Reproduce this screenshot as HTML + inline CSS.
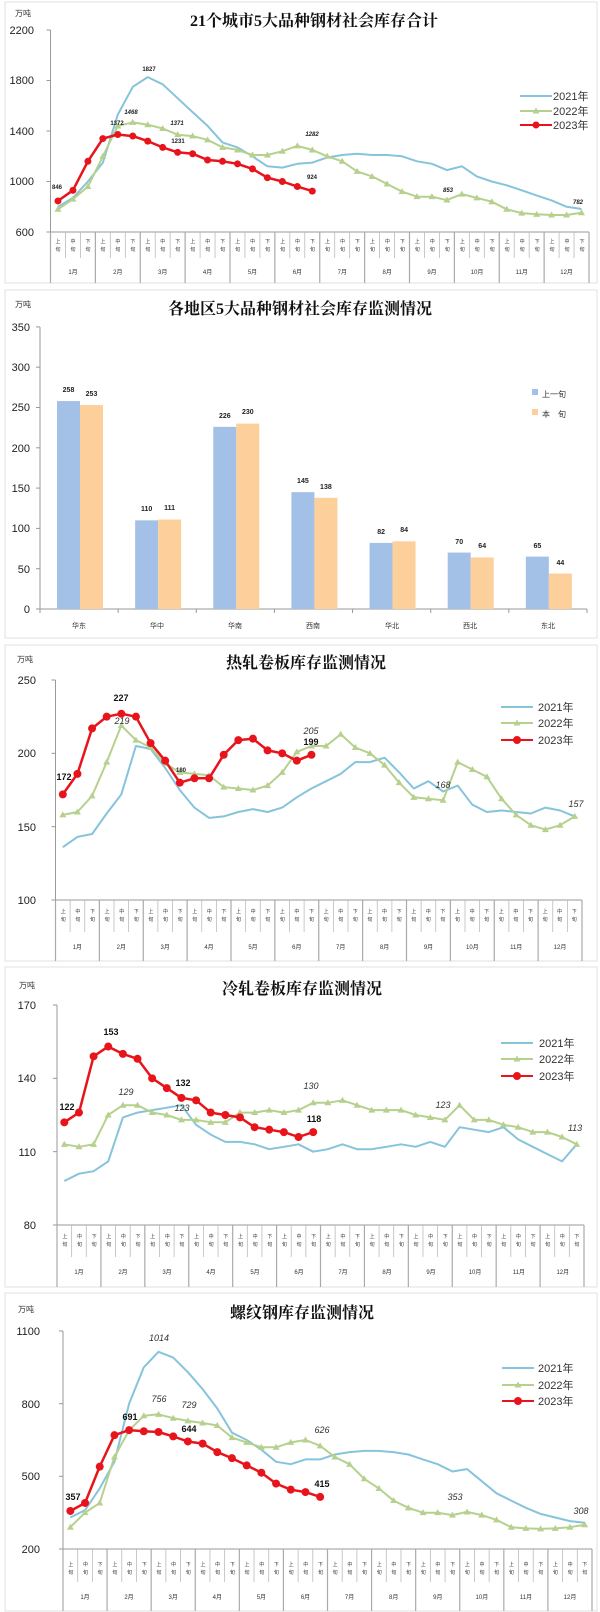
<!DOCTYPE html>
<html><head><meta charset="utf-8">
<style>
html,body{margin:0;padding:0;background:#fff;}
svg{display:block;font-family:"Liberation Sans","Noto Sans CJK SC",sans-serif;}
.t{font-family:"Liberation Serif","Noto Serif CJK SC",serif;font-weight:bold;font-size:16px;fill:#111;}
.yl{font-size:11px;fill:#222;text-anchor:end;}
.u{font-size:8px;fill:#333;}
.tk{font-size:5px;fill:#333;}
.mo{font-size:6px;fill:#333;text-anchor:middle;}
.lg{font-size:11px;fill:#333;}
.dl{font-size:6px;font-weight:bold;fill:#222;text-anchor:middle;}
.dl2{font-size:9px;font-weight:bold;fill:#111;text-anchor:middle;}
.di{font-size:9px;font-style:italic;fill:#333;text-anchor:middle;}
.bl{font-size:7px;font-weight:bold;fill:#222;text-anchor:middle;}
.cat{font-size:7px;fill:#333;text-anchor:middle;}
</style></head><body>
<svg id="s" width="600" height="1612" viewBox="0 0 600 1612" xmlns="http://www.w3.org/2000/svg">
<g id="geo"></g>
<!-- Chart 1 -->
<text class="u" x="15" y="16">万吨</text>
<text class="t" x="314" y="26" text-anchor="middle">21个城市5大品种钢材社会库存合计</text>
<text class="yl" x="34" y="34">2200</text><text class="yl" x="34" y="84">1800</text><text class="yl" x="34" y="135">1400</text><text class="yl" x="34" y="185">1000</text><text class="yl" x="34" y="236">600</text>
<text class="lg" x="553" y="100">2021年</text><text class="lg" x="553" y="115">2022年</text><text class="lg" x="553" y="129">2023年</text>
<text class="dl" x="149" y="71">1827</text><text class="dl" x="131" y="114" font-style="italic">1468</text><text class="dl" x="117" y="125">1372</text><text class="dl" x="177" y="125" font-style="italic">1371</text><text class="dl" x="178" y="143">1231</text><text class="dl" x="312" y="136" font-style="italic">1282</text><text class="dl" x="312" y="179">924</text><text class="dl" x="57" y="189">846</text><text class="dl" x="448" y="192" font-style="italic">853</text><text class="dl" x="578" y="204" font-style="italic">782</text>
<text class="tk" x="55.5" y="243" textLength="529" lengthAdjust="spacing">上中下上中下上中下上中下上中下上中下上中下上中下上中下上中下上中下上中下</text>
<text class="tk" x="55.5" y="251" textLength="529" lengthAdjust="spacing">旬旬旬旬旬旬旬旬旬旬旬旬旬旬旬旬旬旬旬旬旬旬旬旬旬旬旬旬旬旬旬旬旬旬旬旬</text>
<g class="mo"><text x="73" y="274">1月</text><text x="117.8" y="274">2月</text><text x="162.7" y="274">3月</text><text x="207.6" y="274">4月</text><text x="252.5" y="274">5月</text><text x="297.4" y="274">6月</text><text x="342.3" y="274">7月</text><text x="387.2" y="274">8月</text><text x="432" y="274">9月</text><text x="477" y="274">10月</text><text x="521.8" y="274">11月</text><text x="566.6" y="274">12月</text></g>
<!-- Chart 2 -->
<text class="u" x="15" y="307">万吨</text>
<text class="t" x="300" y="314" text-anchor="middle">各地区5大品种钢材社会库存监测情况</text>
<text class="yl" x="30" y="331">350</text><text class="yl" x="30" y="371">300</text><text class="yl" x="30" y="411">250</text><text class="yl" x="30" y="452">200</text><text class="yl" x="30" y="492">150</text><text class="yl" x="30" y="532">100</text><text class="yl" x="30" y="573">50</text><text class="yl" x="30" y="613">0</text>
<text class="u" x="542" y="397">上一旬</text><text class="u" x="542" y="417">本　旬</text>
<g class="bl"><text x="68.5" y="392">258</text><text x="91.5" y="396">253</text><text x="146.6" y="511">110</text><text x="169.6" y="510">111</text><text x="224.8" y="418">226</text><text x="247.8" y="414">230</text><text x="302.9" y="483">145</text><text x="325.9" y="489">138</text><text x="381.1" y="534">82</text><text x="404.1" y="532">84</text><text x="459.2" y="544">70</text><text x="482.2" y="548">64</text><text x="537.4" y="548">65</text><text x="560.4" y="565">44</text></g>
<g class="cat"><text x="79" y="628">华东</text><text x="157" y="628">华中</text><text x="235" y="628">华南</text><text x="313" y="628">西南</text><text x="392" y="628">华北</text><text x="470" y="628">西北</text><text x="548" y="628">东北</text></g>
<!-- Chart 3 -->
<text class="u" x="17" y="662">万吨</text>
<text class="t" x="306" y="668" text-anchor="middle" font-size="17">热轧卷板库存监测情况</text>
<text class="yl" x="36" y="684">250</text><text class="yl" x="36" y="757">200</text><text class="yl" x="36" y="831">150</text><text class="yl" x="36" y="904">100</text>
<text class="lg" x="538" y="711">2021年</text><text class="lg" x="538" y="727">2022年</text><text class="lg" x="538" y="744">2023年</text>
<text class="dl2" x="121" y="701">227</text><text class="di" x="122" y="724">219</text><text class="dl2" x="64" y="780">172</text><text class="dl" x="181" y="772" font-size="7">180</text><text class="di" x="311" y="734">205</text><text class="dl2" x="311" y="745">199</text><text class="di" x="443" y="788">168</text><text class="di" x="576" y="807">157</text>
<text class="tk" x="60.8" y="913" textLength="516" lengthAdjust="spacing">上中下上中下上中下上中下上中下上中下上中下上中下上中下上中下上中下上中下</text>
<text class="tk" x="60.8" y="921" textLength="516" lengthAdjust="spacing">旬旬旬旬旬旬旬旬旬旬旬旬旬旬旬旬旬旬旬旬旬旬旬旬旬旬旬旬旬旬旬旬旬旬旬旬</text>
<g class="mo"><text x="77.4" y="949">1月</text><text x="121.3" y="949">2月</text><text x="165.2" y="949">3月</text><text x="209" y="949">4月</text><text x="253" y="949">5月</text><text x="296.8" y="949">6月</text><text x="340.7" y="949">7月</text><text x="384.6" y="949">8月</text><text x="428.5" y="949">9月</text><text x="472.4" y="949">10月</text><text x="516.2" y="949">11月</text><text x="560" y="949">12月</text></g>
<!-- Chart 4 -->
<text class="u" x="19" y="988">万吨</text>
<text class="t" x="302" y="994" text-anchor="middle" font-size="17">冷轧卷板库存监测情况</text>
<text class="yl" x="36" y="1009">170</text><text class="yl" x="36" y="1082">140</text><text class="yl" x="36" y="1156">110</text><text class="yl" x="36" y="1229">80</text>
<text class="lg" x="539" y="1047">2021年</text><text class="lg" x="539" y="1063">2022年</text><text class="lg" x="539" y="1080">2023年</text>
<text class="dl2" x="111" y="1035">153</text><text class="dl2" x="67" y="1110">122</text><text class="di" x="126" y="1095">129</text><text class="dl2" x="183" y="1086">132</text><text class="di" x="182" y="1111">123</text><text class="di" x="311" y="1089">130</text><text class="dl2" x="314" y="1122">118</text><text class="di" x="443" y="1108">123</text><text class="di" x="575" y="1131">113</text>
<text class="tk" x="62.4" y="1238" textLength="517" lengthAdjust="spacing">上中下上中下上中下上中下上中下上中下上中下上中下上中下上中下上中下上中下</text>
<text class="tk" x="62.4" y="1246" textLength="517" lengthAdjust="spacing">旬旬旬旬旬旬旬旬旬旬旬旬旬旬旬旬旬旬旬旬旬旬旬旬旬旬旬旬旬旬旬旬旬旬旬旬</text>
<g class="mo"><text x="79" y="1274">1月</text><text x="123" y="1274">2月</text><text x="167" y="1274">3月</text><text x="211" y="1274">4月</text><text x="255" y="1274">5月</text><text x="299" y="1274">6月</text><text x="343" y="1274">7月</text><text x="387" y="1274">8月</text><text x="431" y="1274">9月</text><text x="475" y="1274">10月</text><text x="518.9" y="1274">11月</text><text x="562.8" y="1274">12月</text></g>
<!-- Chart 5 -->
<text class="u" x="18" y="1312">万吨</text>
<text class="t" x="302" y="1318" text-anchor="middle" font-size="17">螺纹钢库存监测情况</text>
<text class="yl" x="40" y="1335">1100</text><text class="yl" x="40" y="1408">800</text><text class="yl" x="40" y="1480">500</text><text class="yl" x="40" y="1553">200</text>
<text class="lg" x="538" y="1372">2021年</text><text class="lg" x="538" y="1389">2022年</text><text class="lg" x="538" y="1405">2023年</text>
<text class="di" x="159" y="1341" font-style="normal">1014</text><text class="di" x="159" y="1402" font-style="normal">756</text><text class="di" x="189" y="1408" font-style="normal">729</text><text class="dl2" x="130" y="1420">691</text><text class="dl2" x="189" y="1432">644</text><text class="di" x="322" y="1433" font-style="normal">626</text><text class="dl2" x="322" y="1487">415</text><text class="dl2" x="73" y="1500">357</text><text class="di" x="455" y="1500" font-style="normal">353</text><text class="di" x="581" y="1514" font-style="normal">308</text>
<text class="tk" x="68.3" y="1566" textLength="519" lengthAdjust="spacing">上中下上中下上中下上中下上中下上中下上中下上中下上中下上中下上中下上中下</text>
<text class="tk" x="68.3" y="1574" textLength="519" lengthAdjust="spacing">旬旬旬旬旬旬旬旬旬旬旬旬旬旬旬旬旬旬旬旬旬旬旬旬旬旬旬旬旬旬旬旬旬旬旬旬</text>
<g class="mo"><text x="85" y="1599">1月</text><text x="129" y="1599">2月</text><text x="173.2" y="1599">3月</text><text x="217.3" y="1599">4月</text><text x="261.4" y="1599">5月</text><text x="305.5" y="1599">6月</text><text x="349.6" y="1599">7月</text><text x="393.7" y="1599">8月</text><text x="437.8" y="1599">9月</text><text x="481.9" y="1599">10月</text><text x="526" y="1599">11月</text><text x="570" y="1599">12月</text></g>
</svg>
<script>
(function(){
var g=document.getElementById('geo'),h='';
function L(a,b,c,d,col,w){h+='<line x1="'+a+'" y1="'+b+'" x2="'+c+'" y2="'+d+'" stroke="'+col+'" stroke-width="'+(w||1)+'"/>';}
function R(x,y,w,hh,f,s){h+='<rect x="'+x+'" y="'+y+'" width="'+w+'" height="'+hh+'" fill="'+f+'"'+(s?' stroke="'+s+'"':'')+'/>';}
var C1='#86c4dc',C2='#b6d08d',C3='#e8141b';
[[5,2,592,281],[5,290,592,348],[5,645,592,316],[5,967,592,320],[5,1293,592,318]].forEach(function(p){h+='<rect x="'+p[0]+'" y="'+p[1]+'" width="'+p[2]+'" height="'+p[3]+'" fill="none" stroke="#e2e2e2"/>';});
function tri(x,y){return '<path d="M'+x+' '+(y-3.5)+'L'+(x+3.5)+' '+(y+2.5)+'L'+(x-3.5)+' '+(y+2.5)+'Z" fill="'+C2+'"/>';}
function chart(c){
 var w=(c.x1-c.x0)/36;
 function X(i){return c.x0+(i+0.5)*w;}
 function Y(v){return c.yB-(v-c.vB)/(c.vT-c.vB)*(c.yB-c.yT);}
 L(c.x0,c.yT,c.x0,c.yB,'#999');L(c.x0,c.yB,c.x1,c.yB,'#999');
 c.yt.forEach(function(v){L(c.x0-4,Y(v),c.x0,Y(v),'#999');});
 for(var i=0;i<=36;i++){var xx=c.x0+i*w; if(i%3==0)L(xx,c.yB,xx,c.mE,'#aaa',1.2); else L(xx,c.yB,xx,c.tE,'#bbb',0.8);}
 function pl(d,col,sw){var p=d.map(function(v,i){return X(i).toFixed(1)+','+Y(v).toFixed(1);}).join(' ');h+='<polyline points="'+p+'" fill="none" stroke="'+col+'" stroke-width="'+sw+'" stroke-linejoin="round"/>';}
 pl(c.a,C1,2);pl(c.b,C2,2);c.b.forEach(function(v,i){h+=tri(X(i),Y(v));});
 pl(c.c,C3,2.5);c.c.forEach(function(v,i){h+='<circle cx="'+X(i)+'" cy="'+Y(v)+'" r="'+c.r+'" fill="'+C3+'"/>';});
 var lx=c.lx,ly=c.ly;L(lx,ly[0],lx+32,ly[0],C1,2);L(lx,ly[1],lx+32,ly[1],C2,2);h+=tri(lx+16,ly[1]);L(lx,ly[2],lx+32,ly[2],C3,2);h+='<circle cx="'+(lx+16)+'" cy="'+ly[2]+'" r="'+c.r+'" fill="'+C3+'"/>';
}
chart({x0:50.5,x1:589,yT:30,yB:232,vT:2200,vB:600,tE:258,mE:283,yt:[2200,1800,1400,1000,600],r:3.5,lx:520,ly:[96,111,125],
a:[800,870,1000,1150,1530,1750,1827,1770,1660,1550,1440,1310,1270,1200,1120,1110,1140,1150,1190,1210,1220,1210,1210,1200,1160,1140,1090,1120,1040,1000,970,930,890,850,800,782],
b:[780,860,960,1200,1440,1468,1450,1420,1371,1360,1330,1270,1250,1210,1210,1240,1282,1250,1200,1160,1080,1040,980,920,880,880,853,900,870,840,780,750,740,735,735,752],
c:[846,930,1160,1340,1372,1360,1320,1270,1231,1220,1170,1160,1140,1100,1030,1000,960,924]});
chart({x0:55.5,x1:582,yT:680,yB:900,vT:250,vB:100,tE:932,mE:961,yt:[250,200,150,100],r:4,lx:501,ly:[707,723,740],
a:[136,143,145,159,172,205,203,190,175,163,156,157,160,162,160,163,170,176,181,186,194,194,197,187,176,181,174,178,165,160,161,160,159,163,161,157],
b:[158,160,171,194,219,209,204,193,187,186,185,177,176,175,178,187,201,205,205,213,204,200,192,180,170,169,168,194,189,184,169,158,151,148,151,157],
c:[172,186,217,225,227,225,207,195,180,183,183,199,209,210,202,200,195,199]});
chart({x0:57,x1:584,yT:1005,yB:1225,vT:170,vB:80,tE:1257,mE:1287,yt:[170,140,110,80],r:4,lx:501,ly:[1043,1059,1076],
a:[98,101,102,106,124,126,127,128,129,121,117,114,114,113,111,112,113,110,111,113,111,111,112,113,112,114,112,120,119,118,120,115,112,109,106,113],
b:[113,112,113,125,129,129,126,125,123,123,122,122,126,126,127,126,127,130,130,131,129,127,127,127,125,124,123,129,123,123,121,120,118,118,116,113],
c:[122,126,149,153,150,148,140,136,132,131,126,125,124,120,119,118,116,118]});
chart({x0:63,x1:592,yT:1331,yB:1549,vT:1100,vB:200,tE:1582,mE:1611,yt:[1100,800,500,200],r:4,lx:502,ly:[1368,1385,1401],
a:[330,360,450,560,800,950,1014,990,930,860,780,680,650,610,560,550,570,570,590,600,605,605,600,590,570,550,520,530,480,430,400,370,345,330,315,308],
b:[290,350,390,580,690,750,756,740,729,720,710,660,640,620,620,640,650,626,580,550,490,450,400,370,350,350,340,353,340,320,290,285,283,285,290,300],
c:[357,390,540,670,691,686,683,665,644,635,600,575,545,515,470,445,435,415]});
L(40,327,40,609,'#999');L(40,609,587,609,'#999');
[0,50,100,150,200,250,300,350].forEach(function(v){L(36,609-v*0.806,40,609-v*0.806,'#999');});
var bv=[258,110,226,145,82,70,65],ov=[253,111,230,138,84,64,44];
for(var k=0;k<7;k++){var gx=40+k*78.14;R(gx+17,609-bv[k]*0.806,23,bv[k]*0.806,'#a3c0e6');R(gx+40,609-ov[k]*0.806,23,ov[k]*0.806,'#fdcf9a');L(gx,609,gx,613,'#999');}
L(587,609,587,613,'#999');
R(532,389,6,6,'#a3c0e6');R(532,409,6,6,'#fdcf9a');
g.innerHTML=h;
})();
</script>
</body></html>
